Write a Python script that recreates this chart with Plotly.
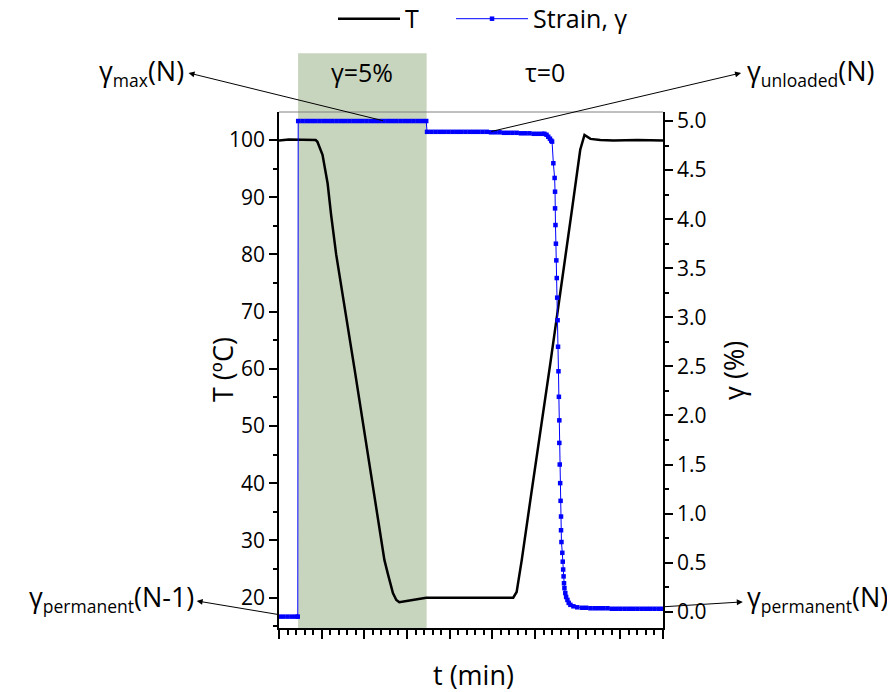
import plotly.graph_objects as go

# ---- data ----
T_time = [0.00, 0.23, 0.86, 0.90, 1.02, 1.14, 1.22, 1.34, 1.77, 2.19, 2.40, 2.47, 2.55, 2.67,
          2.75, 2.82, 3.06, 3.45, 3.92, 5.49, 5.57, 5.69, 5.89, 6.36, 6.87, 7.06, 7.16, 7.30,
          7.53, 7.84, 8.40, 9.00]
T_vals = [99.9, 100.1, 100.0, 99.7, 97.4, 92.4, 87.0, 80.0, 60.0, 40.0, 30.0, 26.6, 24.2, 20.8,
          19.6, 19.2, 19.5, 19.97, 20.0, 20.0, 21.0, 26.6, 37.0, 61.0, 88.0, 98.3, 100.9, 100.2,
          100.0, 99.9, 100.0, 99.9]

strain_time = [0.00, 0.10, 0.20, 0.30, 0.40, 0.44,
               0.45, 0.55, 0.65, 0.75, 0.85, 0.95, 1.05, 1.15, 1.25, 1.35, 1.45, 1.55, 1.65,
               1.75, 1.85, 1.95, 2.05, 2.15, 2.25, 2.35, 2.45, 2.55, 2.65, 2.75, 2.85, 2.95,
               3.05, 3.15, 3.25, 3.35, 3.45,
               3.47, 3.57, 3.67, 3.77, 3.87, 3.97, 4.07, 4.17, 4.27, 4.37, 4.47, 4.57, 4.67,
               4.77, 4.87, 4.97, 5.07, 5.17, 5.27, 5.37, 5.47, 5.57, 5.67, 5.77, 5.87, 5.97,
               6.07, 6.17, 6.22, 6.27, 6.31, 6.35, 6.38,
               6.40, 6.43, 6.46, 6.47, 6.47, 6.48, 6.49, 6.50, 6.51, 6.52, 6.53, 6.54, 6.55,
               6.56, 6.57, 6.57, 6.58, 6.59, 6.60, 6.61, 6.61, 6.62, 6.64, 6.65, 6.66, 6.67,
               6.68, 6.69, 6.71, 6.73, 6.76, 6.79, 6.83, 6.90, 6.99,
               7.10, 7.20, 7.30, 7.40, 7.50, 7.60, 7.70, 7.80, 7.90, 8.00, 8.10, 8.20, 8.30,
               8.40, 8.50, 8.60, 8.70, 8.80, 8.90, 9.00]
strain_vals = [-0.05, -0.05, -0.05, -0.05, -0.05, -0.05,
               5.00, 5.00, 5.00, 5.00, 5.00, 5.00, 5.00, 5.00, 5.00, 5.00, 5.00, 5.00, 5.00,
               5.00, 5.00, 5.00, 5.00, 5.00, 5.00, 5.00, 5.00, 5.00, 5.00, 5.00, 5.00, 5.00,
               5.00, 5.00, 5.00, 5.00, 5.00,
               4.89, 4.89, 4.89, 4.89, 4.89, 4.89, 4.89, 4.89, 4.89, 4.89, 4.89, 4.89, 4.89,
               4.89, 4.89, 4.885, 4.885, 4.885, 4.88, 4.88, 4.88, 4.88, 4.875, 4.875, 4.875,
               4.87, 4.87, 4.87, 4.87, 4.86, 4.84, 4.82, 4.80,
               4.79, 4.57, 4.42, 4.28, 4.11, 3.94, 3.75, 3.58, 3.40, 3.20, 2.97, 2.70, 2.45,
               2.19, 1.95, 1.72, 1.50, 1.31, 1.13, 0.97, 0.83, 0.71, 0.60, 0.51, 0.43, 0.36,
               0.29, 0.24, 0.19, 0.15, 0.12, 0.09, 0.07, 0.055, 0.045,
               0.04, 0.04, 0.035, 0.035, 0.035, 0.035, 0.035, 0.03, 0.03, 0.03, 0.03, 0.03,
               0.03, 0.03, 0.03, 0.03, 0.03, 0.03, 0.03, 0.03]

shade_start, shade_end = 0.447, 3.46
x_range = [0, 9]
T_range = [14.7, 104.9]
strain_range = [-0.166, 5.092]

FONT = "Open Sans"

fig = go.Figure()
fig.add_trace(go.Scatter(x=T_time, y=T_vals, name="T", mode="lines", legend="legend",
                         line=dict(color="black", width=2.5)))
fig.add_trace(go.Scatter(x=strain_time, y=strain_vals, name="Strain, γ", yaxis="y2",
                         mode="lines+markers", legend="legend2",
                         line=dict(color="#0000ff", width=1),
                         marker=dict(symbol="square", size=4.5, color="#0000ff")))

axis_common = dict(showline=True, linecolor="black", linewidth=1.5, showgrid=False,
                   zeroline=False, ticks="outside", tickcolor="black", tickwidth=1.5,
                   automargin=False,
                   tickfont=dict(size=21, family=FONT, color="black"))

legend_common = dict(orientation="h", xanchor="left", y=0.984, yanchor="middle",
                     yref="container", font=dict(size=25), bgcolor="rgba(0,0,0,0)")

# the page body adds an 8px offset, so the figure is 8px smaller than the window
fig.update_layout(
    width=887, height=684,
    margin=dict(l=271, r=232, t=104, b=64, autoexpand=False),
    plot_bgcolor="white", paper_bgcolor="white",
    font=dict(family=FONT, size=21, color="black"),
    showlegend=True,
    legend=dict(x=0.1406, itemwidth=62, **legend_common),
    legend2=dict(x=0.448, itemwidth=72, **legend_common),
    xaxis=dict(range=x_range, tick0=0, dtick=1, ticklen=9, showticklabels=False,
               minor=dict(ticks="outside", ticklen=5, dtick=0.2, tickcolor="black",
                          tickwidth=1.5, showgrid=False),
               **axis_common),
    yaxis=dict(range=T_range, tick0=0, dtick=10, ticklen=8,
               minor=dict(ticks="outside", ticklen=4, dtick=5, tickcolor="black",
                          tickwidth=1.5, showgrid=False),
               **axis_common),
    yaxis2=dict(range=strain_range, overlaying="y", side="right", tick0=0, dtick=0.5,
                tickformat=".1f", ticklen=8,
                minor=dict(ticks="outside", ticklen=4, dtick=0.25, tickcolor="black",
                           tickwidth=1.5, showgrid=False),
                **axis_common),
)

fig.add_shape(type="rect", xref="x", yref="paper", x0=shade_start, x1=shade_end,
              y0=0, y1=1.114, fillcolor="#c8d5be", line=dict(width=0), layer="below")
fig.add_shape(type="line", xref="paper", yref="paper", x0=0, x1=1, y0=1, y1=1,
              line=dict(color="#808080", width=1))

# axis titles
axis_titles = [
    dict(text="T (ºC)", x=-0.1484, y=0.5, angle=-90),
    dict(text="γ (%)", x=1.182, y=0.5, angle=-90),
    dict(text="t (min)", x=0.5065, y=-0.090, angle=0),
]
for t in axis_titles:
    fig.add_annotation(text=t["text"], xref="paper", yref="paper", x=t["x"], y=t["y"],
                       xanchor="center", yanchor="middle", textangle=t["angle"],
                       showarrow=False, font=dict(size=27, family=FONT, color="black"))

# arrows: head near label, tail at the data
arrows = [
    dict(x=-2.12, y=5.49, ax=2.47, ay=5.0),
    dict(x=10.83, y=5.49, ax=4.94, ay=4.89),
    dict(x=-1.93, y=0.11, ax=0.0, ay=-0.03),
    dict(x=10.87, y=0.10, ax=9.0, ay=0.05),
]
for a in arrows:
    fig.add_annotation(text="", xref="x", yref="y2", axref="x", ayref="y2",
                       x=a["x"], y=a["y"], ax=a["ax"], ay=a["ay"], showarrow=True,
                       arrowhead=2, arrowsize=1.2, arrowwidth=1, arrowcolor="black",
                       standoff=0, startstandoff=0)


def sub(s):
    return '<sub><span style="font-size:17.5px">' + s + '</span></sub>'


# labels in paper coordinates (outside the axis ranges)
labels = [
    dict(text="γ" + sub("max") + "(N)", x=-0.242, y=1.078, xanchor="right"),
    dict(text="γ" + sub("unloaded") + "(N)", x=1.2135, y=1.078, xanchor="left"),
    dict(text="γ" + sub("permanent") + "(N-1)", x=-0.216, y=0.058, xanchor="right"),
    dict(text="γ" + sub("permanent") + "(N)", x=1.2135, y=0.058, xanchor="left"),
]
for l in labels:
    fig.add_annotation(text=l["text"], xref="paper", yref="paper", x=l["x"], y=l["y"],
                       xanchor=l["xanchor"], yanchor="middle", showarrow=False,
                       font=dict(size=27, family=FONT, color="black"))

region_labels = [
    dict(text="γ=5%", x=(shade_start + shade_end) / 2),
    dict(text="τ=0", x=6.24),
]
for l in region_labels:
    fig.add_annotation(text=l["text"], xref="x", yref="paper", x=l["x"], y=1.078,
                       xanchor="center", yanchor="middle", showarrow=False,
                       font=dict(size=25, family=FONT, color="black"))

fig.write_html("out.html")
